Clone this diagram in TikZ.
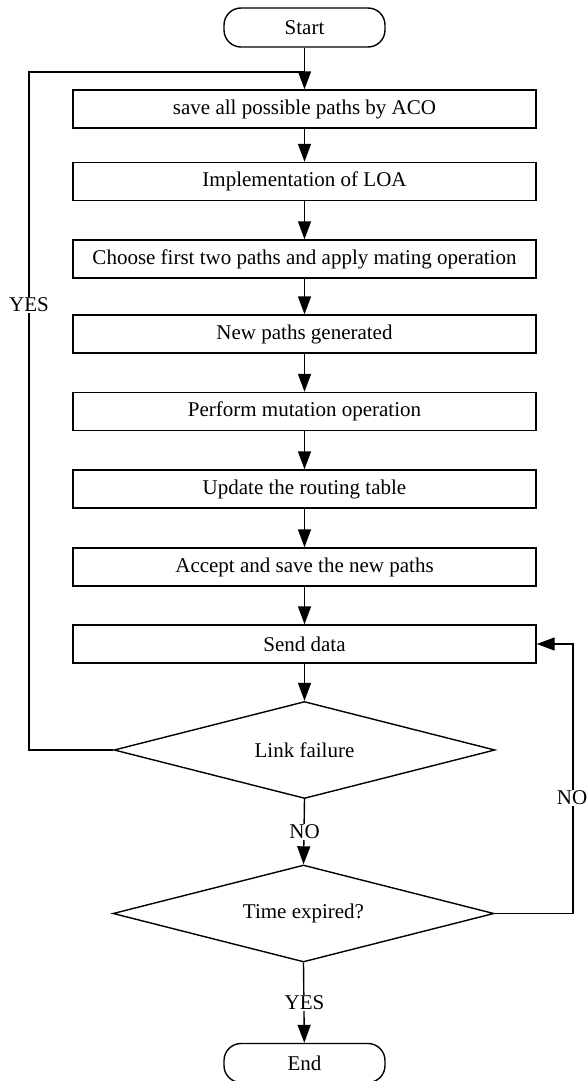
\documentclass[tikz,border=0pt]{standalone}
\usepackage{fontspec}
\setmainfont{Liberation Serif}
\usetikzlibrary{arrows.meta,shapes.geometric}
\begin{document}
\begin{tikzpicture}[x=1pt,y=-1pt,
  every node/.style={font=\fontsize{21}{25}\selectfont, inner sep=0pt},
  proc/.style={draw, line width=1.4pt, minimum width=463pt, minimum height=38pt},
  term/.style={draw, line width=1.4pt, rounded corners=17pt, minimum width=161pt, minimum height=39pt},
  dec/.style={draw, line width=1.4pt, diamond, aspect=3.95, minimum width=381pt, minimum height=97pt},
  flow/.style={line width=1.4pt, -{Triangle[length=18pt,width=13pt]}},
  line/.style={line width=1.4pt},
  lbl/.style={fill=white, inner sep=1pt}]
\useasboundingbox (0,0) rectangle (586,1081);
\node[term] (start) at (304.5,27.5) {Start};
\node[proc] (b1) at (304.5,109) {save all possible paths by ACO};
\node[proc] (b2) at (304.5,181.5) {Implementation of LOA};
\node[proc] (b3) at (304.5,259) {Choose first two paths and apply mating operation};
\node[proc] (b4) at (304.5,334) {New paths generated};
\node[proc] (b5) at (304.5,411.5) {Perform mutation operation};
\node[proc] (b6) at (304.5,489) {Update the routing table};
\node[proc] (b7) at (304.5,567) {Accept and save the new paths};
\node[proc] (b8) at (304.5,644) {Send data};
\node[dec] (d1) at (304.5,750) {Link failure};
\node[dec] (d2) at (303.5,913.5) {Time expired?};
\node[term] (end) at (304.5,1063) {End};
\coordinate (join) at (304.5,72);
\coordinate (lft) at (29,750);
\coordinate (rgt) at (573,913.5);
\draw[flow] (start) -- (b1);
\draw[flow] (b1) -- (b2);
\draw[flow] (b2) -- (b3);
\draw[flow] (b3) -- (b4);
\draw[flow] (b4) -- (b5);
\draw[flow] (b5) -- (b6);
\draw[flow] (b6) -- (b7);
\draw[flow] (b7) -- (b8);
\draw[flow] (b8) -- (d1);
\draw[line] (d1.west) -- (lft) -- (lft |- join) -- (join);
\node[lbl] (yes1) at (29,305) {YES};
\draw[flow] (d1.south) -- (d2.north);
\node[lbl] (no1) at (304.5,832) {NO};
\draw[line] (d2.east) -- (rgt);
\draw[flow] (rgt) -- (rgt |- b8) -- (b8.east);
\node[lbl] (no2) at (572,798) {NO};
\draw[flow] (d2.south) -- (end);
\node[lbl] (yes2) at (304.5,1003) {YES};
\end{tikzpicture}
\end{document}
